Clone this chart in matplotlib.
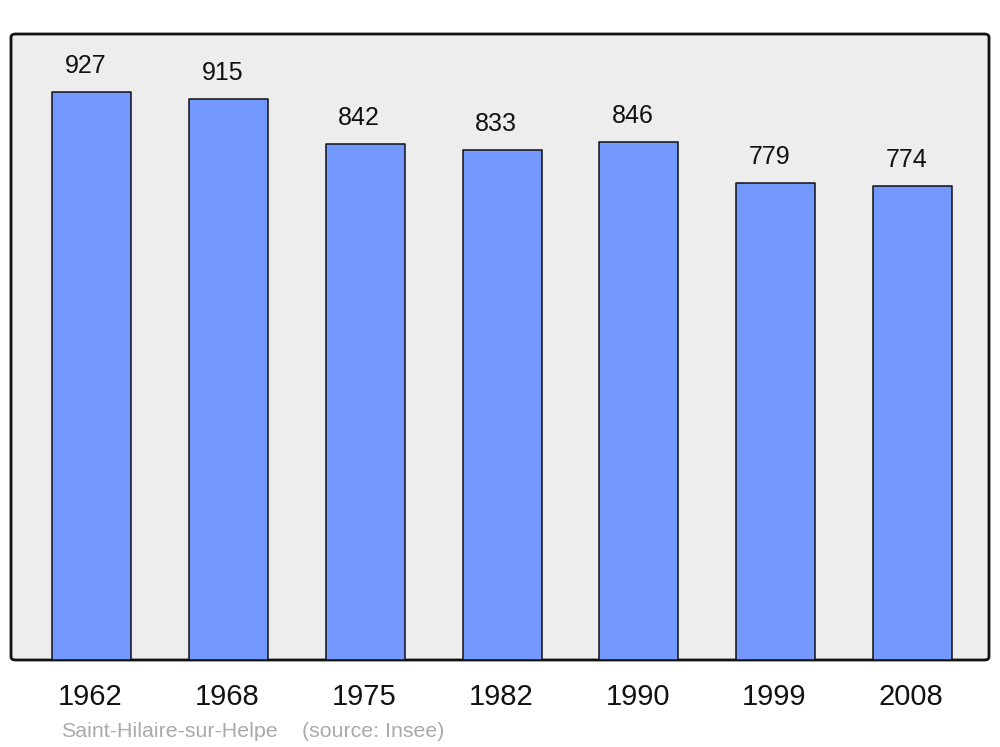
import matplotlib
matplotlib.use("Agg")
import matplotlib.pyplot as plt
from matplotlib.patches import FancyBboxPatch
from matplotlib.transforms import blended_transform_factory

years = ["1962", "1968", "1975", "1982", "1990", "1999", "2008"]
population = [927, 915, 842, 833, 846, 779, 774]
caption_name = "Saint-Hilaire-sur-Helpe"
caption_source = "(source: Insee)"

plt.rcParams['font.family'] = ['Liberation Sans', 'DejaVu Sans']

fig = plt.figure(figsize=(10, 7.47), dpi=100)
ax = fig.add_axes([0.011, 87 / 747, 0.978, 626 / 747])
ax.set_facecolor('none')
ax.set_xlim(-0.592, 6.56)
ax.set_ylim(0, 1021.7)

# frame with rounded corners
frame = FancyBboxPatch((0, 0), 1, 1,
                       boxstyle="round,pad=0,rounding_size=0.005",
                       transform=ax.transAxes, facecolor='#ededed',
                       edgecolor='#111111', linewidth=2.0, zorder=0,
                       clip_on=False)
ax.add_patch(frame)

xs = list(range(len(years)))
bars = ax.bar(xs, population, width=0.578, color='#7399ff', edgecolor='#111111',
              linewidth=1.1, zorder=2)
for b in bars:
    b.set_joinstyle('round')

for x, v in zip(xs, population):
    ax.annotate(str(v), (x, v), xytext=(-4.5, 13.7), textcoords='offset points',
                ha='center', va='baseline', fontsize=18, color='#111111')

trans = blended_transform_factory(ax.transData, ax.transAxes)
for x, y in zip(xs, years):
    ax.text(x - 0.01, -45 / 626, y, transform=trans, ha='center', va='baseline',
            fontsize=21, color='#111111')

for s in ax.spines.values():
    s.set_visible(False)
ax.set_xticks([])
ax.set_yticks([])

fig.text(0.061, 10 / 747, caption_name, ha='left', va='baseline',
         fontsize=15.4, color='#aaaaaa')
fig.text(0.302, 10 / 747, caption_source, ha='left', va='baseline',
         fontsize=15.4, color='#aaaaaa')

fig.savefig("out.png", dpi=100)
